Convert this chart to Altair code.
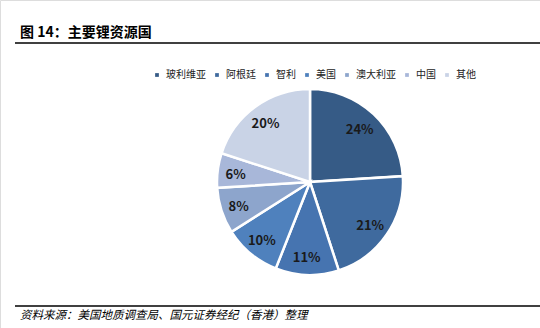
import altair as alt
import pandas as pd

countries = ["玻利维亚", "阿根廷", "智利", "美国", "澳大利亚", "中国", "其他"]
shares = [24, 21, 11, 10, 8, 6, 20]
colors = ["#365B86", "#3F6A9E", "#4674B0", "#4F81BD", "#8DA5CC", "#A8B7D9", "#C9D3E6"]
title_text = "图 14：主要锂资源国"
source_text = "资料来源：美国地质调查局、国元证券经纪（香港）整理"

df = pd.DataFrame({
    "country": countries,
    "share": shares,
    "order": list(range(len(countries))),
    "label": [f"{v}%" for v in shares],
})

FONT = "Noto Sans CJK SC"
cx, cy, R = 310, 182, 93

base = alt.Chart(df).encode(
    theta=alt.Theta("share:Q", stack=True),
    order=alt.Order("order:Q"),
)

pie = base.mark_arc(radius=R, stroke="white", strokeWidth=2.5).encode(
    x=alt.value(cx), y=alt.value(cy),
    color=alt.Color(
        "country:N",
        scale=alt.Scale(domain=countries, range=colors),
        sort=countries,
        legend=alt.Legend(
            title=None, orient="none", legendX=152, legendY=70,
            direction="horizontal", symbolType="square", symbolSize=14,
            labelFont=FONT, labelFontSize=10, labelColor="#222222",
            columnPadding=6, labelOffset=4, symbolStrokeWidth=0,
        ),
    ),
)

labels = base.mark_text(radius=74, font=FONT, fontSize=13, fontWeight="bold",
                        color="#1a1a1a").encode(
    x=alt.value(cx - 1), y=alt.value(cy + 2), text="label:N",
)

ann = pd.DataFrame({"t": [title_text]})
title = alt.Chart(ann).mark_text(align="left", baseline="middle", font=FONT,
                                 fontSize=14, fontWeight="bold", color="#000").encode(
    x=alt.value(20), y=alt.value(33), text="t:N")

src = alt.Chart(pd.DataFrame({"t": [source_text]})).mark_text(
    align="left", baseline="middle", font=FONT, fontSize=11.5, fontStyle="italic",
    color="#000").encode(x=alt.value(20), y=alt.value(316), text="t:N")

line1 = alt.Chart(ann).mark_rule(color="#000", strokeWidth=1.3).encode(
    x=alt.value(15), x2=alt.value(540), y=alt.value(43))
line2 = alt.Chart(ann).mark_rule(color="#000", strokeWidth=1.3).encode(
    x=alt.value(15), x2=alt.value(540), y=alt.value(306))

chart = alt.layer(pie, labels, title, src, line1, line2).properties(
    width=540, height=328, padding=0, autosize=alt.AutoSizeParams(type="none"),
).configure_view(stroke=None).configure(background="white")

chart.save("out.html", embed_options={"renderer": "svg", "actions": False})
